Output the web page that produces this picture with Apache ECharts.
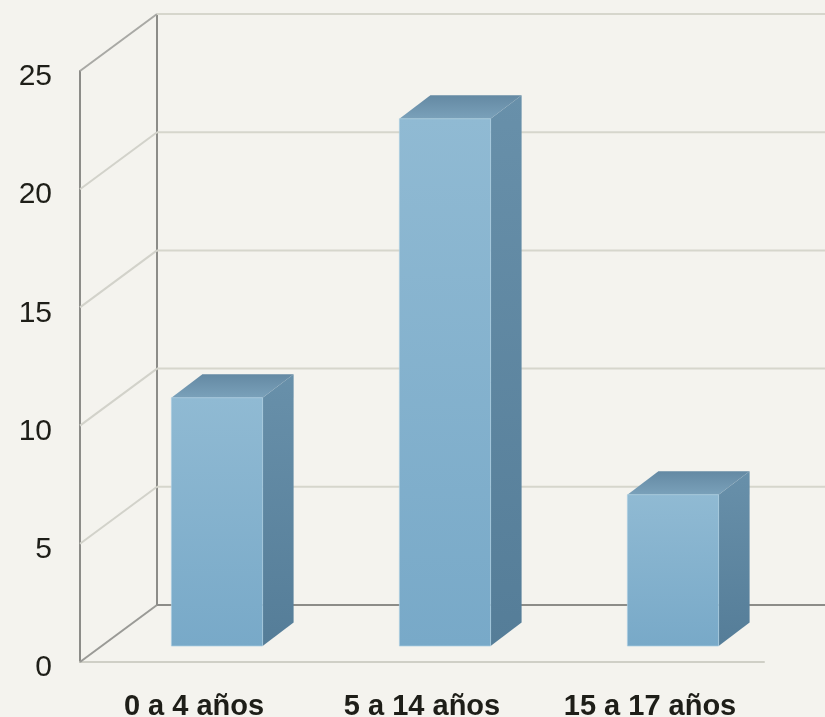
<!DOCTYPE html>
<html>
<head>
<meta charset="utf-8">
<script src="https://cdn.jsdelivr.net/npm/echarts@6/dist/echarts.min.js"></script>
<style>
  html, body { margin: 0; padding: 0; background: #f4f3ee; }
  #main { width: 825px; height: 717px; }
</style>
</head>
<body>
<div id="main"></div>
<script>
var categories = ['0 a 4 años', '5 a 14 años', '15 a 17 años'];
var values = [10.5, 22.3, 6.4];
var yTicks = [0, 5, 10, 15, 20, 25];

// depth offsets of the fake 3d box
var wallDx = 77, wallDy = -57;
var barDx = 23, barDy = -16;
var sideDx = 31, sideDy = -23.5;

var dom = document.getElementById('main');
var myChart = echarts.init(dom);

function renderFrame(params, api) {
    var cs = params.coordSys;
    var v = api.value(1);
    var y = api.coord([0, v])[1];
    var x0 = cs.x, x1 = cs.x + cs.width;
    var children = [];
    var diagColor = v === 0 ? '#9a9a96' : (v === 25 ? '#a9a9a5' : '#d2d2ca');
    var backColor = v === 0 ? '#8c8c88' : '#d6d6cc';
    children.push({
        type: 'line',
        shape: { x1: x0, y1: y, x2: x0 + wallDx, y2: y + wallDy },
        style: { stroke: diagColor, lineWidth: 2 }
    });
    children.push({
        type: 'line',
        shape: { x1: x0 + wallDx, y1: y + wallDy, x2: x1 + wallDx, y2: y + wallDy },
        style: { stroke: backColor, lineWidth: 2 }
    });
    if (v === 0) {
        children.push({
            type: 'line',
            shape: { x1: x0 + wallDx, y1: y + wallDy, x2: x0 + wallDx, y2: cs.y + wallDy },
            style: { stroke: '#8c8c88', lineWidth: 2 }
        });
    }
    return { type: 'group', children: children };
}

function renderBar(params, api) {
    var i = api.value(0);
    var v = api.value(1);
    var base = api.coord([i, 0]);
    var top = api.coord([i, v]);
    var w = api.size([1, 0])[0] * 0.4;
    var l = base[0] + barDx - w / 2;
    var r = base[0] + barDx + w / 2;
    var by = base[1] + barDy;
    var ty = top[1] + barDy;
    return {
        type: 'group',
        children: [{
            type: 'polygon',
            shape: { points: [[r, ty], [r + sideDx, ty + sideDy], [r + sideDx, by + sideDy], [r, by]] },
            style: {
                fill: new echarts.graphic.LinearGradient(0, 0, 0, 1, [
                    { offset: 0, color: '#6890aa' },
                    { offset: 1, color: '#557d98' }
                ])
            }
        }, {
            type: 'polygon',
            shape: { points: [[l, ty], [l + sideDx, ty + sideDy], [r + sideDx, ty + sideDy], [r, ty]] },
            style: {
                fill: new echarts.graphic.LinearGradient(0, 1, 0, 0, [
                    { offset: 0, color: '#7aa1ba' },
                    { offset: 1, color: '#6489a3' }
                ])
            }
        }, {
            type: 'rect',
            shape: { x: l, y: ty, width: w, height: by - ty },
            style: {
                fill: new echarts.graphic.LinearGradient(0, 0, 0, 1, [
                    { offset: 0, color: '#90bad3' },
                    { offset: 1, color: '#78a9c8' }
                ]),
                stroke: 'rgba(170,205,225,0.7)',
                lineWidth: 1
            }
        }]
    };
}

option = {
    backgroundColor: '#f4f3ee',
    animation: false,
    grid: {
        left: 80,
        right: 61,
        top: 71,
        bottom: 55,
        outerBoundsMode: 'none'
    },
    xAxis: {
        type: 'category',
        data: categories,
        axisLine: { show: true, lineStyle: { color: '#cfcfc6', width: 2 } },
        axisTick: { show: false },
        axisLabel: {
            margin: 30,
            fontSize: 29,
            fontWeight: 'bold',
            fontFamily: 'Liberation Sans',
            color: '#1e1e18'
        }
    },
    yAxis: {
        type: 'value',
        min: 0,
        max: 25,
        interval: 5,
        axisLine: { show: true, lineStyle: { color: '#8c8c88', width: 2 } },
        axisTick: { show: false },
        splitLine: { show: false },
        axisLabel: {
            margin: 28,
            fontSize: 30,
            fontFamily: 'Liberation Sans',
            color: '#1e1e18',
            verticalAlign: 'top',
            lineHeight: 12
        }
    },
    series: [{
        type: 'custom',
        name: 'frame',
        clip: false,
        z: 1,
        renderItem: renderFrame,
        data: yTicks.map(function (t) { return [0, t]; })
    }, {
        type: 'custom',
        name: 'bars',
        clip: false,
        z: 5,
        renderItem: renderBar,
        data: values.map(function (v, i) { return [i, v]; })
    }]
};

if (option && typeof option === "object") {
    myChart.setOption(option, true);
}
</script>
</body>
</html>
